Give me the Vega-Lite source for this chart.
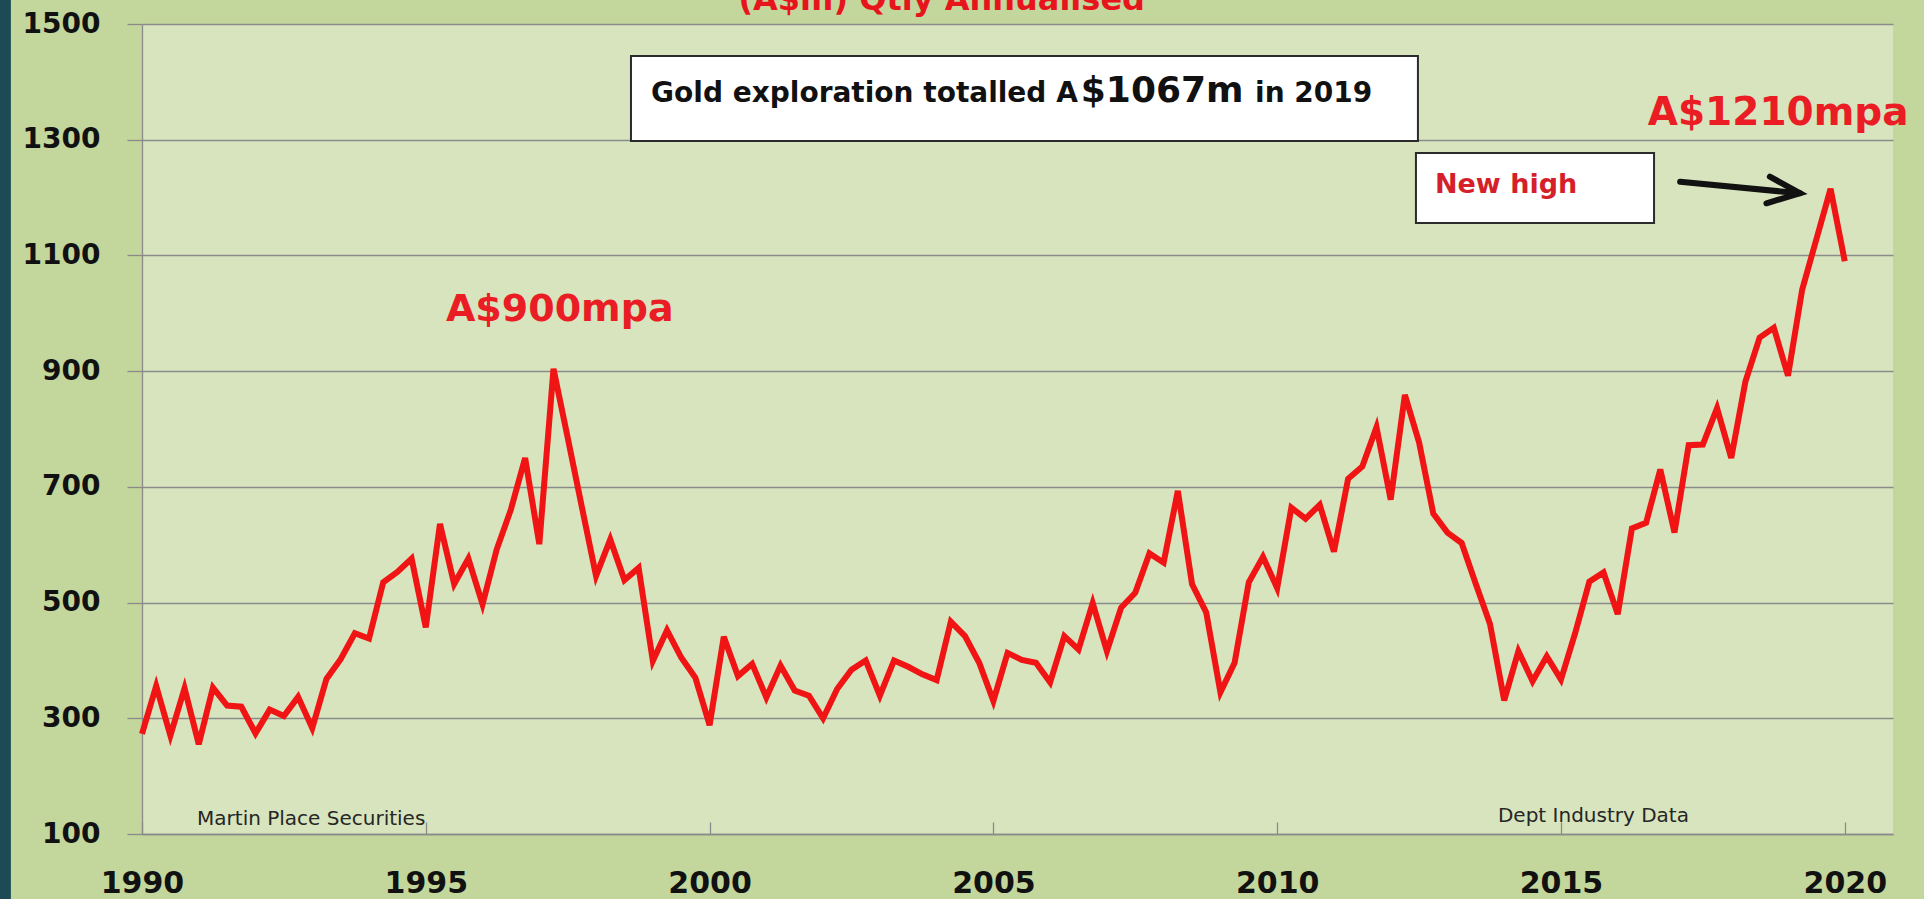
{
  "$schema": "https://vega.github.io/schema/vega-lite/v6.json",
  "autosize": {"type": "none"},
  "width": 1751,
  "height": 810,
  "padding": {"left": 142, "top": 24, "right": 31, "bottom": 65},
  "background": "#c3d69b",
  "config": {
    "view": {"fill": "#d7e4bd", "stroke": null},
    "font": "DejaVu Sans",
    "axis": {
      "domainColor": "#8a8a8a", "domainWidth": 1.3,
      "tickColor": "#8a8a8a", "tickWidth": 1.3,
      "gridColor": "#8a8a8a", "gridWidth": 1.3,
      "labelColor": "#111111", "labelFont": "DejaVu Sans", "labelFontWeight": "bold"
    },
    "axisX": {"grid": false, "labelFontSize": 30, "tickSize": -12, "labelPadding": 46, "labelFlush": false, "labelOverlap": false},
    "axisY": {"grid": true, "labelFontSize": 28, "tickSize": 15, "labelPadding": 27}
  },
  "layer": [
    {
      "data": {"values": [{}]},
      "mark": {"type": "rect", "color": "#1d4b55", "clip": false},
      "encoding": {
        "x": {"datum": 1987.4, "type": "quantitative", "title": null},
        "x2": {"datum": 1987.69},
        "y": {"datum": -40, "type": "quantitative", "title": null},
        "y2": {"datum": 1560}
      }
    },
    {
      "data": {"values": [
        {"x": 1998.615, "x2": 2012.48, "y": 1444.7, "y2": 1297.8},
        {"x": 2012.445, "x2": 2016.64, "y": 1277.0, "y2": 1156.1}
      ]},
      "mark": {"type": "rect", "fill": "#ffffff", "stroke": "#2b2b2b", "strokeWidth": 2},
      "encoding": {
        "x": {"field": "x", "type": "quantitative", "title": null},
        "x2": {"field": "x2"},
        "y": {"field": "y", "type": "quantitative", "title": null},
        "y2": {"field": "y2"}
      }
    },
    {
      "data": {"values": [
        {"t": 1990.00, "v": 273}, {"t": 1990.25, "v": 356}, {"t": 1990.50, "v": 270}, {"t": 1990.75, "v": 352},
        {"t": 1991.00, "v": 255}, {"t": 1991.25, "v": 353}, {"t": 1991.50, "v": 322}, {"t": 1991.75, "v": 320},
        {"t": 1992.00, "v": 274}, {"t": 1992.25, "v": 315}, {"t": 1992.50, "v": 304}, {"t": 1992.75, "v": 337},
        {"t": 1993.00, "v": 283}, {"t": 1993.25, "v": 368}, {"t": 1993.50, "v": 402}, {"t": 1993.75, "v": 447},
        {"t": 1994.00, "v": 438}, {"t": 1994.25, "v": 535}, {"t": 1994.50, "v": 553}, {"t": 1994.75, "v": 576},
        {"t": 1995.00, "v": 457}, {"t": 1995.25, "v": 636}, {"t": 1995.50, "v": 532}, {"t": 1995.75, "v": 576},
        {"t": 1996.00, "v": 497}, {"t": 1996.25, "v": 592}, {"t": 1996.50, "v": 661}, {"t": 1996.75, "v": 750},
        {"t": 1997.00, "v": 601}, {"t": 1997.25, "v": 904}, {"t": 1997.50, "v": 785}, {"t": 1997.75, "v": 665},
        {"t": 1998.00, "v": 546}, {"t": 1998.25, "v": 609}, {"t": 1998.50, "v": 539}, {"t": 1998.75, "v": 560},
        {"t": 1999.00, "v": 399}, {"t": 1999.25, "v": 452}, {"t": 1999.50, "v": 405}, {"t": 1999.75, "v": 370},
        {"t": 2000.00, "v": 288}, {"t": 2000.25, "v": 441}, {"t": 2000.50, "v": 373}, {"t": 2000.75, "v": 394},
        {"t": 2001.00, "v": 336}, {"t": 2001.25, "v": 391}, {"t": 2001.50, "v": 348}, {"t": 2001.75, "v": 339},
        {"t": 2002.00, "v": 300}, {"t": 2002.25, "v": 351}, {"t": 2002.50, "v": 384}, {"t": 2002.75, "v": 400},
        {"t": 2003.00, "v": 339}, {"t": 2003.25, "v": 400}, {"t": 2003.50, "v": 389}, {"t": 2003.75, "v": 376},
        {"t": 2004.00, "v": 366}, {"t": 2004.25, "v": 467}, {"t": 2004.50, "v": 442}, {"t": 2004.75, "v": 396},
        {"t": 2005.00, "v": 330}, {"t": 2005.25, "v": 413}, {"t": 2005.50, "v": 401}, {"t": 2005.75, "v": 396},
        {"t": 2006.00, "v": 362}, {"t": 2006.25, "v": 442}, {"t": 2006.50, "v": 419}, {"t": 2006.75, "v": 499},
        {"t": 2007.00, "v": 416}, {"t": 2007.25, "v": 491}, {"t": 2007.50, "v": 517}, {"t": 2007.75, "v": 585},
        {"t": 2008.00, "v": 569}, {"t": 2008.25, "v": 693}, {"t": 2008.50, "v": 532}, {"t": 2008.75, "v": 483},
        {"t": 2009.00, "v": 345}, {"t": 2009.25, "v": 396}, {"t": 2009.50, "v": 535}, {"t": 2009.75, "v": 579},
        {"t": 2010.00, "v": 525}, {"t": 2010.25, "v": 664}, {"t": 2010.50, "v": 645}, {"t": 2010.75, "v": 669},
        {"t": 2011.00, "v": 588}, {"t": 2011.25, "v": 714}, {"t": 2011.50, "v": 735}, {"t": 2011.75, "v": 803},
        {"t": 2012.00, "v": 678}, {"t": 2012.25, "v": 859}, {"t": 2012.50, "v": 777}, {"t": 2012.75, "v": 654},
        {"t": 2013.00, "v": 621}, {"t": 2013.25, "v": 603}, {"t": 2013.50, "v": 532}, {"t": 2013.75, "v": 463},
        {"t": 2014.00, "v": 331}, {"t": 2014.25, "v": 416}, {"t": 2014.50, "v": 364}, {"t": 2014.75, "v": 407},
        {"t": 2015.00, "v": 367}, {"t": 2015.25, "v": 447}, {"t": 2015.50, "v": 536}, {"t": 2015.75, "v": 552},
        {"t": 2016.00, "v": 480}, {"t": 2016.25, "v": 628}, {"t": 2016.50, "v": 638}, {"t": 2016.75, "v": 730},
        {"t": 2017.00, "v": 621}, {"t": 2017.25, "v": 772}, {"t": 2017.50, "v": 773}, {"t": 2017.75, "v": 836},
        {"t": 2018.00, "v": 750}, {"t": 2018.25, "v": 882}, {"t": 2018.50, "v": 958}, {"t": 2018.75, "v": 975},
        {"t": 2019.00, "v": 892}, {"t": 2019.25, "v": 1041}, {"t": 2019.50, "v": 1128}, {"t": 2019.75, "v": 1215},
        {"t": 2020.00, "v": 1090}
      ]},
      "mark": {"type": "line", "color": "#f01414", "strokeWidth": 6, "strokeJoin": "miter", "clip": false},
      "encoding": {
        "x": {"field": "t", "type": "quantitative", "title": null,
              "scale": {"domain": [1990, 2020.85], "nice": false, "zero": false},
              "axis": {"values": [1990, 1995, 2000, 2005, 2010, 2015, 2020], "format": "d"}},
        "y": {"field": "v", "type": "quantitative", "title": null,
              "scale": {"domain": [100, 1500], "nice": false, "zero": false},
              "axis": {"values": [100, 300, 500, 700, 900, 1100, 1300, 1500], "format": "d"}}
      }
    },
    {
      "data": {"values": [
        {"ax": 2017.10, "ay": 1227.4, "seg": "shaft", "o": 1},
        {"ax": 2019.21, "ay": 1207.4, "seg": "shaft", "o": 2},
        {"ax": 2018.68, "ay": 1236.1, "seg": "head", "o": 1},
        {"ax": 2019.21, "ay": 1207.4, "seg": "head", "o": 2},
        {"ax": 2018.62, "ay": 1190.1, "seg": "head", "o": 3}
      ]},
      "mark": {"type": "line", "color": "#111111", "strokeWidth": 6, "strokeCap": "round", "strokeJoin": "miter"},
      "encoding": {
        "x": {"field": "ax", "type": "quantitative", "title": null},
        "y": {"field": "ay", "type": "quantitative", "title": null},
        "detail": {"field": "seg"},
        "order": {"field": "o"}
      }
    },
    {
      "data": {"values": [
        {"x": 1998.97, "y": 1365.2, "label": "Gold exploration totalled A"},
        {"x": 2009.61, "y": 1365.2, "label": "in 2019"}
      ]},
      "mark": {"type": "text", "align": "left", "baseline": "alphabetic", "font": "DejaVu Sans", "fontWeight": "bold", "fontSize": 28, "color": "#111111"},
      "encoding": {
        "x": {"field": "x", "type": "quantitative", "title": null},
        "y": {"field": "y", "type": "quantitative", "title": null},
        "text": {"field": "label"}
      }
    },
    {
      "data": {"values": [{"x": 2006.54, "y": 1365.2, "label": "$1067m"}]},
      "mark": {"type": "text", "align": "left", "baseline": "alphabetic", "font": "DejaVu Sans", "fontWeight": "bold", "fontSize": 36, "color": "#111111"},
      "encoding": {
        "x": {"field": "x", "type": "quantitative", "title": null},
        "y": {"field": "y", "type": "quantitative", "title": null},
        "text": {"field": "label"}
      }
    },
    {
      "data": {"values": [{"x": 2012.78, "y": 1207.9, "label": "New high"}]},
      "mark": {"type": "text", "align": "left", "baseline": "alphabetic", "font": "DejaVu Sans", "fontWeight": "bold", "fontSize": 27, "color": "#d51f2b"},
      "encoding": {
        "x": {"field": "x", "type": "quantitative", "title": null},
        "y": {"field": "y", "type": "quantitative", "title": null},
        "text": {"field": "label"}
      }
    },
    {
      "data": {"values": [{"x": 1997.36, "y": 986.7, "label": "A$900mpa"}]},
      "mark": {"type": "text", "align": "center", "baseline": "alphabetic", "font": "DejaVu Sans", "fontWeight": "bold", "fontSize": 38, "color": "#ea1c24"},
      "encoding": {
        "x": {"field": "x", "type": "quantitative", "title": null},
        "y": {"field": "y", "type": "quantitative", "title": null},
        "text": {"field": "label"}
      }
    },
    {
      "data": {"values": [{"x": 2016.53, "y": 1325.4, "label": "A$1210mpa"}]},
      "mark": {"type": "text", "align": "left", "baseline": "alphabetic", "font": "DejaVu Sans", "fontWeight": "bold", "fontSize": 39, "color": "#ea1c24"},
      "encoding": {
        "x": {"field": "x", "type": "quantitative", "title": null},
        "y": {"field": "y", "type": "quantitative", "title": null},
        "text": {"field": "label"}
      }
    },
    {
      "data": {"values": [{"x": 2004.09, "y": 1524.2, "label": "(A$m) Qtly Annualised"}]},
      "mark": {"type": "text", "align": "center", "baseline": "alphabetic", "font": "DejaVu Sans", "fontWeight": "bold", "fontSize": 32, "color": "#e8141c"},
      "encoding": {
        "x": {"field": "x", "type": "quantitative", "title": null},
        "y": {"field": "y", "type": "quantitative", "title": null},
        "text": {"field": "label"}
      }
    },
    {
      "data": {"values": [
        {"x": 1990.97, "y": 115.6, "label": "Martin Place Securities"},
        {"x": 2013.89, "y": 120.7, "label": "Dept Industry Data"}
      ]},
      "mark": {"type": "text", "align": "left", "baseline": "alphabetic", "font": "DejaVu Sans", "fontSize": 20, "color": "#262626"},
      "encoding": {
        "x": {"field": "x", "type": "quantitative", "title": null},
        "y": {"field": "y", "type": "quantitative", "title": null},
        "text": {"field": "label"}
      }
    }
  ]
}
